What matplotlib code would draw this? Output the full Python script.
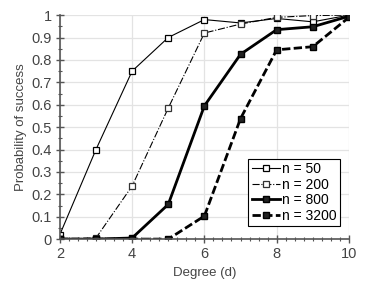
import numpy as np
import matplotlib.pyplot as plt
from matplotlib.ticker import MultipleLocator, FuncFormatter

plt.rcParams['font.family'] = ['Liberation Sans', 'DejaVu Sans']

degree = [2, 3, 4, 5, 6, 7, 8, 9, 10]
p_50 = [0.02, 0.40, 0.75, 0.90, 0.98, 0.965, 0.985, 0.97, 1.0]
p_200 = [0.0, 0.005, 0.237, 0.585, 0.92, 0.96, 0.99, 0.998, 1.0]
p_800 = [0.0, 0.0, 0.005, 0.155, 0.595, 0.825, 0.935, 0.948, 0.995]
p_3200 = [0.0, 0.0, 0.0, 0.0, 0.103, 0.538, 0.845, 0.859, 0.99]
labels = ['n = 50', 'n = 200', 'n = 800', 'n = 3200']


def fmt(v, pos):
  if abs(v) < 1e-9:
    return '0'
  if abs(v - 1) < 1e-9:
    return '1'
  return ('%.1f' % v)


fig = plt.figure(figsize=(3.74, 2.85), dpi=100)
ax = fig.add_axes([0.160, 0.161, 0.773, 0.786])

ax.plot(degree, p_50, color='black', lw=0.8, ls='-', marker='s', ms=3.8,
        mfc='white', mec='black', mew=0.9, label=labels[0])
ax.plot(degree, p_200, color='black', lw=0.8, ls='-.', marker='s', ms=3.8,
        mfc='white', mec='#333333', mew=0.9, label=labels[1])
ax.plot(degree, p_800, color='black', lw=2.0, ls='-', marker='s', ms=5,
        mfc='#222222', mec='black', mew=1.0, label=labels[2])
ax.plot(degree, p_3200, color='black', lw=2.0, ls=(0, (3, 1.2)), marker='s', ms=5,
        mfc='#222222', mec='black', mew=1.0, label=labels[3])

ax.set_xlim(2, 10)
ax.set_ylim(0, 1)
ax.xaxis.set_major_locator(MultipleLocator(2))
ax.xaxis.set_minor_locator(MultipleLocator(0.25))
ax.yaxis.set_major_locator(MultipleLocator(0.1))
ax.yaxis.set_minor_locator(MultipleLocator(0.05))
ax.yaxis.set_major_formatter(FuncFormatter(fmt))

ax.grid(True, which='major', color='#e3e3e3', lw=0.9)
ax.set_axisbelow(True)
for side in ['top', 'right']:
  ax.spines[side].set_visible(False)
for side in ['left', 'bottom']:
  ax.spines[side].set_color('#555555')
  ax.spines[side].set_linewidth(1.2)

ax.tick_params(axis='both', which='major', direction='inout', length=6, width=1,
               color='#555555', labelsize=10.5, labelcolor='#444444', pad=3)
ax.tick_params(axis='both', which='minor', direction='inout', length=3, width=0.8,
               color='#555555')

ax.set_xlabel('Degree (d)', fontsize=9.5, color='#444444', labelpad=4)
ax.set_ylabel('Probability of success', fontsize=9.5, color='#444444', labelpad=3)

leg = ax.legend(loc='lower right', bbox_to_anchor=(0.985, 0.04), fontsize=10,
                fancybox=False, framealpha=1, edgecolor='black',
                handlelength=2.0, handletextpad=0.2, borderpad=0.25,
                labelspacing=0.1, borderaxespad=0.3)
leg.get_frame().set_linewidth(0.8)

fig.savefig('out.png', dpi=100)
